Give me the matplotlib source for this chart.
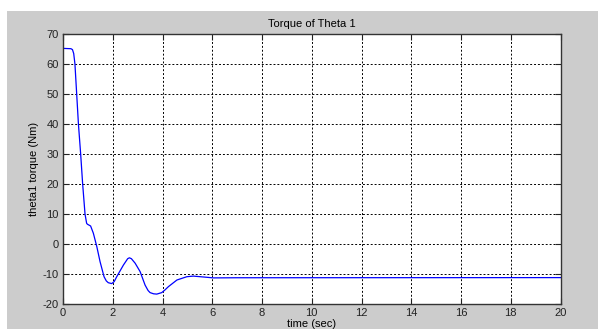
import matplotlib
matplotlib.use("Agg")
import matplotlib.pyplot as plt
from matplotlib.patches import Rectangle

time_s = [0.0, 0.32, 0.38, 0.43, 0.48, 0.55, 0.62, 0.71, 0.79, 0.885, 0.95, 0.98, 1.11,
          1.22, 1.36, 1.49, 1.65, 1.74, 1.82, 1.96, 2.06, 2.16, 2.43, 2.60, 2.67, 2.75,
          2.90, 3.10, 3.30, 3.42, 3.50, 3.64, 3.77, 3.97, 4.10, 4.24, 4.58, 4.98, 5.24,
          5.65, 6.05, 7.0, 20.0]
torque = [65.2, 65.1, 64.8, 63.5, 60.0, 50.0, 40.0, 30.0, 20.0, 10.0, 6.9, 6.6, 6.0,
          3.6, -0.9, -5.9, -10.9, -12.3, -12.9, -13.2, -12.5, -10.9, -7.0, -4.9, -4.6, -4.9,
          -6.4, -9.2, -13.7, -15.5, -16.2, -16.6, -16.7, -16.2, -15.3, -14.2, -12.0, -10.9, -10.7,
          -11.0, -11.3, -11.25, -11.2]
x_ticks = [0, 2, 4, 6, 8, 10, 12, 14, 16, 18, 20]
y_ticks = [-20, -10, 0, 10, 20, 30, 40, 50, 60, 70]

plt.rcParams['font.family'] = ['Liberation Sans', 'DejaVu Sans']
plt.rcParams['axes.unicode_minus'] = False
W, H = 598, 329
fig = plt.figure(figsize=(W / 100, H / 100), dpi=100)
fig.patch.set_facecolor('white')
bg = Rectangle((7 / W, 0), 1 - 7 / W, 1 - 11 / H, transform=fig.transFigure,
               facecolor='#cccccc', edgecolor='none', zorder=-10)
fig.add_artist(bg)

ax = fig.add_axes([63 / W, 1 - 304 / H, 497.5 / W, 270 / H])
ax.set_zorder(1)
ax.set_facecolor('white')
ax.plot(time_s, torque, color='#0000ff', linewidth=0.9)
ax.set_xlim(0, 20)
ax.set_ylim(-20, 70)
ax.set_xticks(x_ticks)
ax.set_yticks(y_ticks)
ax.grid(True, color='black', linestyle=(0, (2, 2)), linewidth=0.7)
ax.tick_params(direction='in', length=4, width=0.8, labelsize=8, top=True, right=True,
               pad=3, colors='#222222')
for s in ax.spines.values():
    s.set_color('#333333')
    s.set_linewidth(1.0)
ax.set_title('Torque of Theta 1', fontsize=8, pad=5)
ax.set_xlabel('time (sec)', fontsize=8, labelpad=0.5)
ax.set_ylabel('theta1 torque (Nm)', fontsize=8, labelpad=3)
fig.savefig('out.png', dpi=100)
